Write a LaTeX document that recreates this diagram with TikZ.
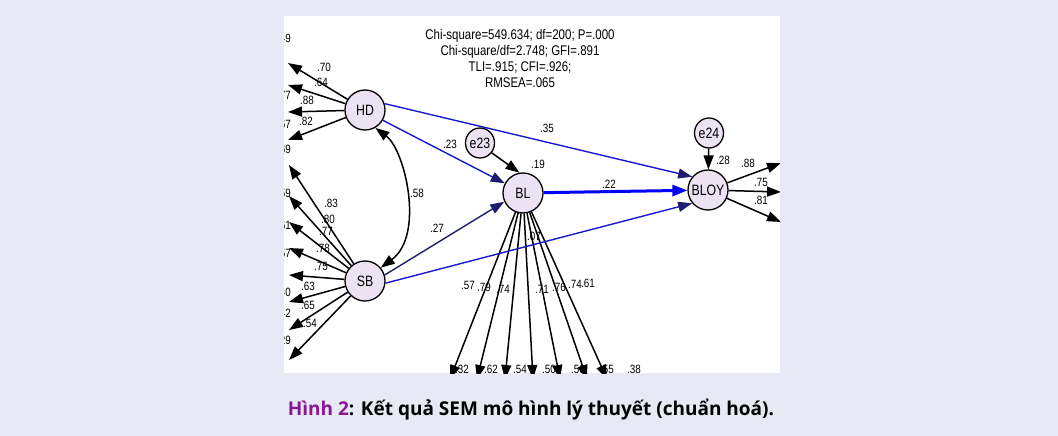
\documentclass[tikz,border=0pt]{standalone}
\usepackage{fontspec}
\newfontfamily\amosfont[FakeStretch=0.82]{Liberation Sans}
\newfontfamily\capfont{Open Sans}
\definecolor{PageBlue}{RGB}{231,234,245}
\definecolor{NodeLilac}{RGB}{236,226,244}
\definecolor{PathBlue}{RGB}{25,25,210}
\definecolor{PathNavy}{RGB}{30,30,110}
\definecolor{CapPurple}{RGB}{140,20,150}
\usetikzlibrary{arrows.meta, shapes.geometric}
\tikzset{
  latent/.style={circle, draw, line width=1.3pt, fill=NodeLilac, minimum size=40pt,
    inner sep=0pt, font=\amosfont\fontsize{15}{17}\selectfont},
  errvar/.style={ellipse, draw, line width=1.3pt, fill=NodeLilac, minimum width=24pt,
    minimum height=30pt, inner sep=0pt, font=\amosfont\fontsize{15}{17}\selectfont},
  load/.style={line width=1.5pt, -{Triangle[length=14pt,width=10pt]}},
  reg/.style={line width=1.4pt, PathBlue, -{Triangle[length=14pt,width=10pt,color=PathNavy]}},
  coef/.style={inner sep=0pt, font=\amosfont\fontsize{12}{14}\selectfont}
}
\begin{document}
\begin{tikzpicture}[x=1pt, y=-1pt]
\useasboundingbox (0,0) rectangle (1058,436);
\fill[PageBlue] (0,0) rectangle (1058,436);
\fill[white] (284,16) rectangle (780,373);

\begin{scope}
\clip (284,16) rectangle (780,373);

% fit indices
\node[coef, font=\amosfont\fontsize{14}{16}\selectfont, align=center] (fit) at (520,58)
  {Chi-square=549.634; df=200; P=.000\\Chi-square/df=2.748; GFI=.891\\TLI=.915; CFI=.926;\\RMSEA=.065};

% latent variables and errors
\node[latent] (HD) at (365,110) {HD};
\node[latent] (SB) at (365,281) {SB};
\node[latent] (BL) at (523,193) {BL};
\node[latent] (BLOY) at (708,190) {BLOY};
\node[errvar] (e23) at (480,143) {e23};
\node[errvar] (e24) at (709,133) {e24};

% cut-off R2 of the indicators
\foreach \ry/\val [count=\i] in {38/.49, 95/.77, 124/.67, 149/.69, 193/.59, 225/.61,
    253/.57, 292/.40, 313/.42, 340/.29}
  \node[coef, anchor=east] (rsq\i) at (291,\ry) {\val};
\foreach \rx/\val [count=\i] in {462/.32, 491/.62, 520/.54, 549/.50, 578/.50, 607/.55, 634/.38}
  \node[coef] (blr\i) at (\rx,369) {\val};

% loadings
\foreach \lx/\ly/\val [count=\i] in {324/67/.70, 321/82/.64, 307/100/.88, 306/121/.82}
  \node[coef] (hdl\i) at (\lx,\ly) {\val};
\foreach \lx/\ly/\val [count=\i] in {331/203/.83, 328/219/.80, 326/231/.77, 323/248/.78,
    321/266/.75, 308/286/.63, 308/305/.65, 310/323/.54}
  \node[coef] (sbl\i) at (\lx,\ly) {\val};
\foreach \lx/\ly/\val [count=\i] in {468/285/.57, 484/287/.79, 503/289/.74, 542/289/.71,
    559/287/.76, 575/284/.74, 588/283/.61}
  \node[coef] (bll\i) at (\lx,\ly) {\val};
\foreach \lx/\ly/\val [count=\i] in {748/163/.88, 761/182/.75, 761/200/.81}
  \node[coef] (loyl\i) at (\lx,\ly) {\val};

% path coefficients
\node[coef] (cHDSB) at (417,193) {.58};
\node[coef] (cHDBL) at (450,144) {.23};
\node[coef] (cHDLOY) at (547,128) {.35};
\node[coef] (cSBBL) at (437,228) {.27};
\node[coef] (cSBLOY) at (534,236) {.07};
\node[coef] (cBLLOY) at (609,184) {.22};
\node[coef] (rBL) at (538,164) {.19};
\node[coef] (rLOY) at (723,160) {.28};

% indicator arrows
\foreach \ty [count=\i] in {63,85,112,140} {
  \coordinate (hdi\i) at (288,\ty);
  \draw[load] (HD) -- (hdi\i);
}
\foreach \ty [count=\i] in {165,196,222,248,275,302,330,360} {
  \coordinate (sbi\i) at (289,\ty);
  \draw[load] (SB) -- (sbi\i);
}
\foreach \tx [count=\i] in {450,477,505,533,560,587,607} {
  \coordinate (bli\i) at (\tx,379);
  \draw[load] (BL) -- (bli\i);
}
\foreach \ty [count=\i] in {163,192,222} {
  \coordinate (loyi\i) at (781,\ty);
  \draw[load] (BLOY) -- (loyi\i);
}

% structural paths
\draw[load] (e23.-40) -- (BL.100);
\draw[load] (e24) -- (BLOY);
\draw[load, {Triangle[length=14pt,width=10pt]}-{Triangle[length=14pt,width=10pt]}]
  (HD.-60) .. controls (405,150) and (425,235) .. (SB.40);
\draw[reg] (HD.18) -- (BLOY.140);
\draw[reg] (HD.-30) -- (BL.152);
\draw[reg, PathNavy] (SB.17) -- (BL.205);
\draw[reg] (SB.-6) -- (BLOY.220);
\draw[line width=3pt, blue, -{Triangle[length=15pt,width=11pt]}] (BL) -- (BLOY);
\end{scope}

% caption
\node[font=\capfont\bfseries\fontsize{19}{21}\selectfont, anchor=base] (caption) at (531,415)
  {\textcolor{CapPurple}{Hình 2}: Kết quả SEM mô hình lý thuyết (chuẩn hoá).};
\end{tikzpicture}
\end{document}
